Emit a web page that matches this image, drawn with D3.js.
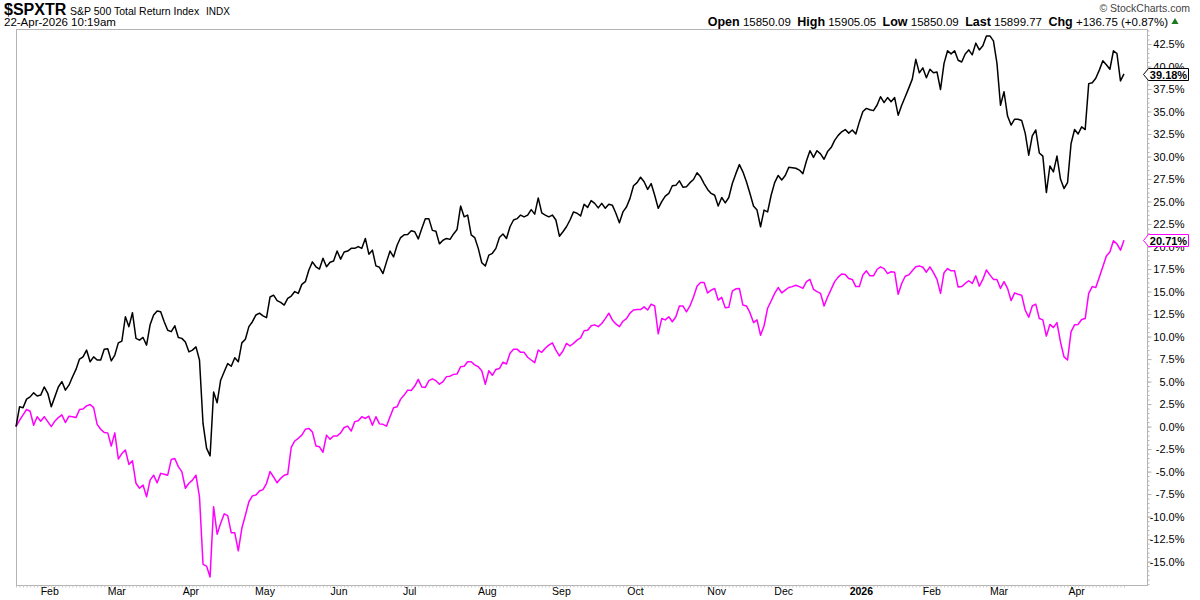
<!DOCTYPE html>
<html>
<head>
<meta charset="utf-8">
<script src="https://cdn.jsdelivr.net/npm/d3@7/dist/d3.min.js"></script>
<style>
  body { margin: 0; background: #fff; }
  svg { display: block; font-family: "Liberation Sans", Arial, sans-serif; }
</style>
</head>
<body>
<svg></svg>
<script>
const width = 1200;
const height = 600;
const margin = { top: 29, right: 53, bottom: 15, left: 16 };

// % change since the first session (22-Jan-2025), one value per trading session
const spxtrPct = [
  0, 2.2, 2.1, 3.05, 3.3, 3.75, 3.4, 3.5, 4.4, 3.7,
  2.2, 3.3, 4.4, 5.0, 4.05, 4.6, 5.5, 6.35, 7.5, 7.75,
  8.5, 7.2, 7.75, 7.4, 7.4, 8.6, 8.65, 7.3, 7.95, 9.3,
  9.5, 12.2, 11.1, 12.65, 9.8, 9.6, 9.9, 9.05, 11.3, 12.4,
  12.85, 12.75, 11.65, 10.7, 10.55, 11.2, 9.9, 9.8, 9.4, 8.3,
  8.5, 8.85, 7.4, 0.35, -2.4, -3.25, 3.85, 2.65, 5.15, 6.1,
  7.0, 6.7, 7.65, 7.2, 9.3, 9.7, 11.1, 11.65, 12.4, 12.6,
  12.3, 12.1, 14.4, 14.6, 14.0, 13.8, 13.5, 14.25, 14.5, 15.0,
  14.8, 15.8, 16.1, 17.4, 18.3, 17.75, 17.5, 18.7, 17.75, 18.25,
  18.4, 19.5, 18.6, 19.4, 19.5, 19.8, 19.8, 20.0, 19.8, 20.9,
  19.15, 19.6, 17.85, 17.7, 17.0, 18.3, 19.5, 18.85, 20.15, 21.0,
  21.3, 21.35, 21.75, 21.65, 20.85, 22.0, 23.1, 23.1, 21.8, 21.7,
  20.3, 20.7, 20.9, 20.8, 21.4, 21.9, 24.5, 23.3, 23.5, 21.3,
  21.0, 19.8, 18.2, 17.85, 19.05, 19.25, 19.8, 21.0, 21.4, 20.9,
  22.2, 22.95, 23.1, 23.5, 23.3, 23.5, 24.1, 23.6, 25.4, 23.75,
  23.5, 23.3, 23.5, 22.95, 21.15, 21.65, 22.2, 22.95, 23.85, 23.7,
  23.4, 24.7, 24.35, 25.1, 24.8, 24.3, 24.8, 24.25, 24.7, 24.6,
  23.7, 22.65, 23.85, 24.4, 25.35, 26.75, 27.1, 27.7, 27.2, 26.35,
  27.0, 25.7, 24.25, 25.0, 25.6, 25.9, 26.75, 26.8, 27.3, 26.6,
  26.65, 27.1, 27.45, 28.2, 27.75, 27.0, 26.35, 25.9, 25.7, 24.5,
  25.45, 24.85, 25.45, 27.0, 28.1, 29.1, 28.3, 27.2, 25.9, 24.5,
  24.05, 22.2, 24.05, 23.85, 25.7, 27.1, 27.9, 27.4, 27.9, 28.8,
  28.75, 28.7, 28.5, 28.1, 29.5, 30.65, 29.9, 30.65, 30.3, 29.7,
  30.55, 31.0, 31.8, 32.35, 32.75, 33.0, 32.6, 32.95, 32.5, 33.85,
  35.0, 35.35, 35.2, 35.1, 35.7, 36.65, 36.0, 36.55, 36.1, 36.55,
  34.6, 35.7, 36.65, 37.6, 38.6, 40.8, 39.3, 39.85, 38.75, 39.7,
  39.3, 39.4, 37.45, 40.35, 41.75, 41.4, 41.75, 40.7, 40.5, 41.4,
  41.85, 41.3, 42.6, 41.85, 42.3, 43.4, 43.4, 42.85, 40.35, 35.7,
  37.2, 34.5, 33.5, 34.15, 34.15, 34.0, 32.6, 30.15, 32.3, 32.95,
  30.4, 30.05, 26.0, 28.95, 28.3, 30.05, 27.5, 26.45, 27.1, 31.45,
  33.0, 32.5, 33.3, 33.0, 38.1, 38.2, 38.7, 39.6, 40.65, 40.2,
  39.7, 41.75, 41.45, 38.4, 39.18
];

const comparePct = [
  0, 0.7, 1.3, 1.9, 1.7, 0.15, 1.1, 0.6, 1.1, 0.55,
  0, 0.6, 1.0, 1.3, 0.45, 1.15, 1.1, 1.0, 1.9, 1.95,
  2.3, 2.45, 2.1, 0.25, -0.3, -0.65, -0.7, -2.15, -0.7, -3.6,
  -3.0, -2.6, -4.2, -3.8, -6.3, -6.85, -6.5, -7.8, -5.95, -5.4,
  -6.25, -5.2, -5.3, -5.4, -3.65, -3.55, -4.45, -5.0, -6.85, -6.3,
  -5.95, -5.4, -7.8, -15.3, -15.5, -16.7, -8.9, -11.95, -10.75, -9.7,
  -9.9, -11.8, -11.8, -13.8, -11.3, -9.85, -8.35, -7.7, -7.6, -7.15,
  -7.0, -6.3, -5.0, -5.6, -6.25, -5.75, -5.4, -5.3, -2.3, -1.6,
  -1.3, -0.95, -0.3, -0.2, -0.6, -2.15, -2.25, -2.85, -0.95, -1.4,
  -1.05, -1.05, -0.7, -0.1, 0.05, -0.5, 0.55, 0.65, 1.1, 0.9,
  1.15, 0.15, 1.1, 0.3, 0.25, 0.05, 1.1, 2.1, 2.2, 3.05,
  3.5, 4.05, 4.0, 4.5, 5.25, 4.4, 4.35, 5.1, 5.3, 5.1,
  4.7, 5.0, 5.55, 5.6, 5.8, 5.85, 6.65, 6.7, 7.2, 7.2,
  6.85, 6.65, 6.2, 4.7, 6.2, 5.7, 6.35, 6.45, 7.15, 6.95,
  8.15, 8.6, 8.6, 8.25, 8.25, 7.7, 7.4, 7.1, 8.5, 8.25,
  8.7, 9.05, 9.3, 8.5, 7.85, 8.4, 9.25, 8.95, 9.25, 9.6,
  9.85, 10.65, 10.7, 11.2, 11.3, 11.1, 11.45, 12.0, 12.6, 11.85,
  11.4, 11.1, 11.7, 12.0, 12.6, 12.95, 13.0, 13.0, 13.3, 12.95,
  13.6, 13.4, 10.3, 12.0, 11.85, 12.2, 11.65, 12.2, 13.4, 13.4,
  12.75, 13.4, 14.4, 15.6, 16.0, 16.0, 14.85, 15.15, 15.35, 14.05,
  14.35, 13.2, 13.25, 15.05, 15.3, 15.35, 13.5, 13.4, 12.65, 11.55,
  11.85, 10.15, 11.2, 13.15, 13.95, 14.8, 15.45, 14.85, 15.15, 15.45,
  15.55, 15.7, 15.55, 15.35, 16.1, 16.35, 15.25, 15.0, 14.8, 13.4,
  14.4, 15.25, 16.1, 16.6, 16.95, 16.9, 16.45, 16.35, 15.55, 15.55,
  16.85, 17.3, 16.75, 16.75, 17.45, 17.75, 17.55, 17.0, 17.2, 17.15,
  14.7, 15.9, 16.7, 16.85, 17.3, 17.75, 17.85, 17.7, 17.15, 17.75,
  17.1, 16.35, 14.8, 17.1, 17.55, 17.3, 17.3, 15.5, 15.55, 15.9,
  16.2, 15.9, 16.75, 15.6, 16.35, 17.4, 16.85, 16.35, 16.35, 15.35,
  16.1, 15.35, 14.0, 14.85, 14.7, 14.6, 12.95, 12.15, 13.4, 13.6,
  12.0, 11.85, 10.05, 11.35, 11.0, 11.55, 9.4, 7.75, 7.4, 10.55,
  11.3, 11.35, 11.9, 12.0, 14.8, 15.55, 15.45, 16.6, 17.75, 18.95,
  19.4, 20.65, 20.3, 19.6, 20.71
];

// first session of each month (session index) and its label
const monthNames = ["Feb", "Mar", "Apr", "May", "Jun", "Jul", "Aug", "Sep", "Oct", "Nov", "Dec", "2026", "Feb", "Mar", "Apr"];
const monthStarts = [8, 27, 48, 69, 90, 110, 132, 153, 174, 197, 216, 238, 258, 277, 299];

const yTicks = d3.range(-15, 43, 2.5);
const yMinorTicks = d3.range(-17.5, 44.01, 0.5);

const lastSpxtr = "39.18%";
const lastCompare = "20.71%";

const svg = d3.select("svg").attr("width", width).attr("height", height);

const plotRight = width - margin.right;
const plotBottom = height - margin.bottom;

const x = d3.scaleLinear()
  .domain([0, spxtrPct.length - 1])
  .range([margin.left, 1124]);

const y = d3.scaleLinear()
  .domain([-17.6, 44.17])
  .range([plotBottom, margin.top]);

// header text
svg.append("text")
  .attr("x", 4).attr("y", 15)
  .style("font-size", "16px").style("font-weight", "bold")
  .text("$SPXTR");
svg.append("text")
  .attr("x", 70).attr("y", 15)
  .style("font-size", "10.5px")
  .text("S&P 500 Total Return Index");
svg.append("text")
  .attr("x", 206).attr("y", 15)
  .style("font-size", "10px")
  .text("INDX");
svg.append("text")
  .attr("x", 4).attr("y", 26)
  .style("font-size", "11.5px")
  .text("22-Apr-2026 10:19am");

svg.append("text")
  .attr("x", 1190).attr("y", 12)
  .attr("text-anchor", "end")
  .style("font-size", "10.5px").attr("fill", "#444")
  .text("\u00A9 StockCharts.com");

const quote = svg.append("text")
  .attr("x", 1168).attr("y", 26)
  .attr("text-anchor", "end")
  .style("font-size", "11.5px");
const quoteParts = [
  ["Open", true], [" 15850.09  ", false],
  ["High", true], [" 15905.05  ", false],
  ["Low", true], [" 15850.09  ", false],
  ["Last", true], [" 15899.77  ", false],
  ["Chg", true], [" +136.75 (+0.87%)", false]
];
quoteParts.forEach(([t, b]) => {
  quote.append("tspan")
    .style("font-weight", b ? "bold" : "normal")
    .style("font-size", b ? "12.5px" : "11.5px")
    .attr("xml:space", "preserve")
    .text(t);
});
svg.append("path")
  .attr("d", d3.symbol(d3.symbolTriangle, 22)())
  .attr("transform", "translate(1175,22)")
  .attr("fill", "#1f7a1f");

// frame
svg.append("rect")
  .attr("x", margin.left + 0.5).attr("y", margin.top + 0.5)
  .attr("width", plotRight - margin.left).attr("height", plotBottom - margin.top)
  .attr("fill", "none").attr("stroke", "#b4b4b4");

// session ticks along the bottom
svg.append("g")
  .attr("transform", `translate(0,${plotBottom + 0.5})`)
  .call(d3.axisBottom(x).tickValues(d3.range(0, spxtrPct.length)).tickSize(2).tickFormat(""))
  .call((g) => g.select(".domain").remove())
  .selectAll("line").attr("stroke", "#c8c8c8");

// month labels
svg.append("g")
  .attr("transform", `translate(0,${plotBottom})`)
  .call(d3.axisBottom(x).tickValues(monthStarts).tickSize(0).tickPadding(3)
    .tickFormat((d, i) => monthNames[i]))
  .call((g) => g.select(".domain").remove())
  .selectAll("text")
  .attr("dx", 5)
  .style("font-family", "'Liberation Sans', Arial, sans-serif")
  .style("font-size", "10.5px")
  .style("font-weight", (d, i) => (monthNames[i] === "2026" ? "bold" : "normal"))
  .attr("fill", "#000");

// right axis: minor ticks, then labelled ticks
svg.append("g")
  .attr("transform", `translate(${plotRight + 0.5},0)`)
  .call(d3.axisRight(y).tickValues(yMinorTicks).tickSize(2).tickFormat(""))
  .call((g) => g.select(".domain").remove())
  .selectAll("line").attr("stroke", "#b4b4b4");

svg.append("g")
  .attr("transform", `translate(${plotRight + 0.5},0)`)
  .call(d3.axisRight(y).tickValues(yTicks).tickSize(4).tickPadding(33)
    .tickFormat((d) => d.toFixed(1) + "%"))
  .call((g) => g.select(".domain").remove())
  .call((g) => g.selectAll("line").attr("stroke", "#b4b4b4"))
  .selectAll("text")
  .attr("text-anchor", "end")
  .style("font-family", "'Liberation Sans', Arial, sans-serif")
  .style("font-size", "11px")
  .attr("fill", "#000");

// the two lines
const line = d3.line()
  .x((d, i) => x(i))
  .y((d) => y(d));

svg.append("path")
  .datum(comparePct)
  .attr("d", line)
  .attr("fill", "none")
  .attr("stroke", "#ff00ff")
  .attr("stroke-width", 1.5)
  .attr("stroke-linejoin", "round");

svg.append("path")
  .datum(spxtrPct)
  .attr("d", line)
  .attr("fill", "none")
  .attr("stroke", "#000")
  .attr("stroke-width", 1.5)
  .attr("stroke-linejoin", "round");

// last value tags on the right axis (they cover the tick label beneath, as in the original)
function lastTag(value, label, color) {
  const ty = Math.round(y(value)) + 0.5;
  const tx = plotRight - 3.5;
  const g = svg.append("g");
  g.append("path")
    .attr("d", `M${tx},${ty} L${tx + 5},${ty - 6} L${tx + 45},${ty - 6} L${tx + 45},${ty + 6} L${tx + 5},${ty + 6} Z`)
    .attr("fill", "#fff")
    .attr("stroke", color)
    .attr("stroke-width", 1);
  g.append("text")
    .attr("x", tx + 25).attr("y", ty + 4)
    .attr("text-anchor", "middle")
    .style("font-size", "11px").style("font-weight", "bold")
    .text(label);
}
lastTag(spxtrPct[spxtrPct.length - 1], lastSpxtr, "#000");
lastTag(comparePct[comparePct.length - 1], lastCompare, "#ff00ff");
</script>
</body>
</html>
